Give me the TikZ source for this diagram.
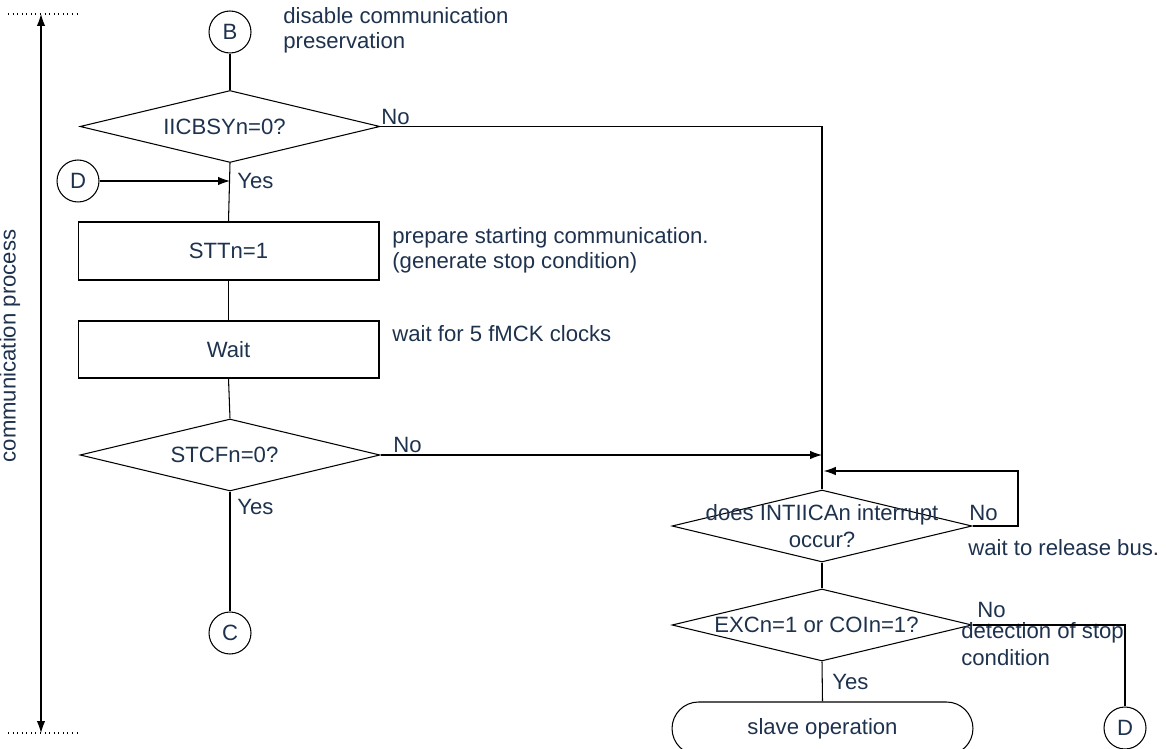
\documentclass[tikz,border=0pt]{standalone}
\usepackage{fontspec}
\setmainfont{Liberation Sans}
\usetikzlibrary{shapes.geometric,arrows.meta,calc}
\definecolor{txtc}{RGB}{30,50,78}
\begin{document}
\begin{tikzpicture}[x=0.02cm,y=-0.02cm,
  every node/.style={font=\fontsize{12.6pt}{14.2pt}\selectfont, text=txtc},
  ln/.style={line width=0.6pt, draw=black},
  arr/.style={ln, -{Latex[length=2.4mm,width=1.7mm]}},
  dec/.style={shape=diamond, draw=black, line width=0.6pt, minimum width=6cm, minimum height=1.44cm, inner sep=0pt},
  stepbox/.style={shape=rectangle, draw=black, line width=0.6pt, minimum width=6.02cm, inner sep=0pt},
  conn/.style={shape=circle, draw=black, line width=0.6pt, minimum size=0.84cm, inner sep=0pt},
  term/.style={shape=rectangle, draw=black, line width=0.6pt, rounded corners=0.53cm, minimum width=6.02cm, minimum height=1.06cm, inner sep=0pt},
  note/.style={anchor=west, align=left, inner sep=0pt},
  cl/.style={align=center, inner sep=0pt},
  cls/.style={align=center, inner sep=0pt, xshift=-0.11cm}
]
\useasboundingbox (0,0) rectangle (1166,749);

% process span
\coordinate (ptop) at (41,14);
\coordinate (pbot) at (41,733);
\coordinate (dtl) at (8,14);
\coordinate (dtr) at (78,14);
\coordinate (dbl) at (8,733);
\coordinate (dbr) at (78,733);
\draw[line width=0.6pt, dotted] (dtl) -- (dtr);
\draw[line width=0.6pt, dotted] (dbl) -- (dbr);
\draw[ln, {Latex[length=2.4mm,width=1.7mm]}-{Latex[length=2.4mm,width=1.7mm]}] (ptop) -- (pbot);
\node[rotate=90, inner sep=0pt] (proc) at (10,346) {communication process};

% left column
\node[conn] (B) at (230,32) {B};
\node[dec, label={[cls]center:IICBSYn=0?}] (d1) at (230,126.5) {};
\node[conn] (D1) at (78,181) {D};
\node[stepbox, minimum height=1.16cm] (r1) at (228.5,251) {STTn=1};
\node[stepbox, minimum height=1.14cm] (r2) at (228.5,349.5) {Wait};
\node[dec, label={[cls]center:STCFn=0?}] (d2) at (230,455) {};
\node[conn] (C) at (230,633) {C};

% right column
\node[dec, label={[cl, font=\fontsize{12.6pt}{15.3pt}\selectfont]center:does INTIICAn interrupt\\occur?}] (d3) at (822,526) {};
\node[dec, label={[cls]center:EXCn=1 or COIn=1?}] (d4) at (822,625) {};
\node[term] (T) at (822.5,728.5) {slave operation};
\node[conn] (D2) at (1125,728) {D};

% annotations
\node[note] (n1) at (283,30.5) {disable communication\\preservation};
\node[note] (no1) at (381,117) {No};
\node[note] (yes1) at (237,181) {Yes};
\node[note] (n2) at (392,250.5) {prepare starting communication.\\(generate stop condition)};
\node[note] (n3) at (392,334) {wait for 5 fMCK clocks};
\node[note] (no2) at (393,445) {No};
\node[note] (yes2) at (237,507) {Yes};
\node[note] (no3) at (969,513) {No};
\node[note] (n4) at (968,548) {wait to release bus.};
\node[note] (no4) at (977,610) {No};
\node[note, font=\fontsize{12.6pt}{15.3pt}\selectfont] (n5) at (961,644.5) {detection of stop\\condition};
\node[note] (yes4) at (832,682) {Yes};

% connectors
\draw[ln] (B) -- (d1.north);
\draw[ln] (d1.south) -- (r1.north);
\draw[arr] (D1.east) -- (d1.south |- D1.east);
\draw[ln] (r1.south) -- (r2.north);
\draw[ln] (r2.south) -- (d2.north);
\draw[ln] (d2.south) -- (C.north);
\draw[ln] (d1.east) -| (d3.north);
\draw[arr] (d2.east) -- (d2.east -| d3.north);
\coordinate (loopr) at (1018,471);
\draw[arr] (d3.east) -| (loopr) -- ([xshift=1]d3.north |- loopr);
\draw[ln] (d3.south) -- (d4.north);
\draw[ln] (d4.east) -| (D2.north);
\draw[ln] (d4.south) -- (T.north);
\end{tikzpicture}
\end{document}
